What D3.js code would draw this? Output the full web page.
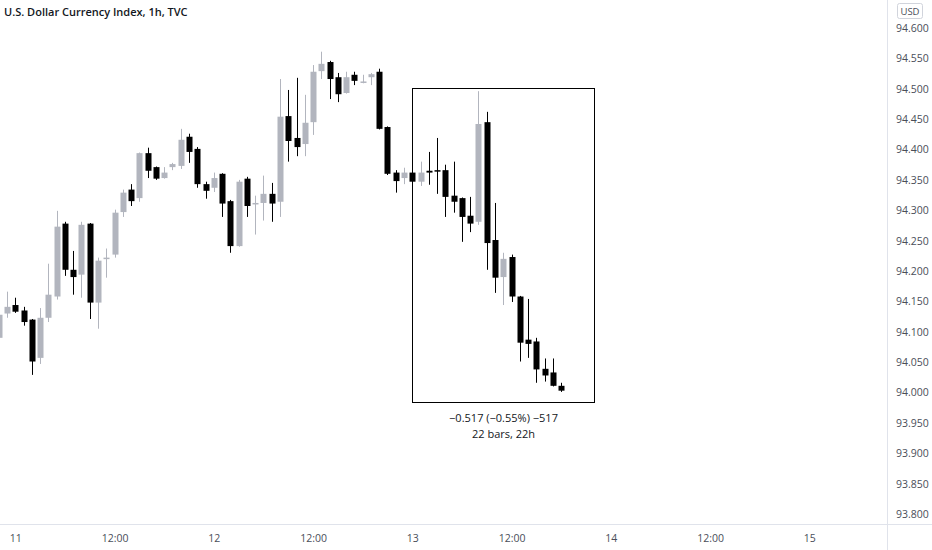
<!DOCTYPE html>
<html>
<head>
<meta charset="utf-8">
<script src="https://cdn.jsdelivr.net/npm/d3@7"></script>
<style>
html,body{margin:0;padding:0;background:#fff;}
svg{display:block;}
text{font-family:"Open Sans","Liberation Sans",sans-serif;}
</style>
</head>
<body>
<svg id="chart" width="932" height="550"></svg>
<script>
// ---- data (hourly bars, U.S. Dollar Currency Index, TVC) ----
const firstBar = Date.UTC(2021, 9, 10, 22); // 10 Oct 22:00
const open  = [94.090,94.130,94.144,94.135,94.120,94.057,94.123,94.158,94.278,94.202,94.194,94.278,94.148,94.220,94.227,94.297,94.334,94.320,94.394,94.371,94.353,94.371,94.373,94.421,94.401,94.343,94.337,94.360,94.315,94.241,94.352,94.310,94.312,94.327,94.314,94.455,94.419,94.409,94.445,94.529,94.544,94.519,94.493,94.523,94.511,94.519,94.528,94.437,94.362,94.353,94.362,94.347,94.365,94.366,94.366,94.324,94.320,94.291,94.281,94.445,94.251,94.190,94.223,94.158,94.087,94.084,94.039,94.033,94.011];
const high  = [94.140,94.166,94.156,94.141,94.121,94.139,94.212,94.299,94.281,94.233,94.281,94.279,94.222,94.237,94.301,94.334,94.343,94.395,94.403,94.372,94.371,94.378,94.434,94.426,94.404,94.347,94.362,94.361,94.317,94.350,94.355,94.324,94.357,94.345,94.516,94.498,94.518,94.490,94.539,94.561,94.546,94.526,94.528,94.528,94.523,94.526,94.533,94.438,94.366,94.370,94.363,94.380,94.396,94.419,94.375,94.380,94.321,94.322,94.496,94.462,94.312,94.230,94.227,94.159,94.154,94.090,94.056,94.056,94.016];
const low   = [94.075,94.123,94.131,94.110,94.029,94.047,94.116,94.153,94.192,94.161,94.156,94.121,94.105,94.189,94.222,94.289,94.307,94.314,94.353,94.350,94.352,94.366,94.368,94.378,94.337,94.319,94.330,94.289,94.230,94.240,94.289,94.260,94.283,94.281,94.289,94.380,94.389,94.389,94.424,94.516,94.483,94.478,94.492,94.506,94.509,94.506,94.433,94.358,94.329,94.343,94.346,94.340,94.342,94.327,94.289,94.296,94.248,94.264,94.276,94.202,94.164,94.144,94.149,94.051,94.057,94.016,94.018,94.010,94.001];
const close = [94.128,94.141,94.133,94.116,94.051,94.123,94.161,94.273,94.202,94.190,94.276,94.148,94.217,94.222,94.296,94.329,94.315,94.394,94.365,94.352,94.362,94.376,94.416,94.396,94.343,94.332,94.353,94.311,94.241,94.347,94.307,94.312,94.327,94.311,94.454,94.414,94.404,94.444,94.528,94.541,94.516,94.491,94.519,94.513,94.512,94.524,94.434,94.360,94.348,94.362,94.347,94.362,94.362,94.364,94.322,94.314,94.289,94.278,94.442,94.246,94.189,94.220,94.158,94.082,94.080,94.038,94.028,94.011,94.003];

const priceTicks = [94.6,94.55,94.5,94.45,94.4,94.35,94.3,94.25,94.2,94.15,94.1,94.05,94.0,93.95,93.9,93.85,93.8];
const timeTicks  = [Date.UTC(2021,9,11,0),Date.UTC(2021,9,11,12),Date.UTC(2021,9,12,0),Date.UTC(2021,9,12,12),Date.UTC(2021,9,13,0),Date.UTC(2021,9,13,12),Date.UTC(2021,9,14,0),Date.UTC(2021,9,14,12),Date.UTC(2021,9,15,0)];
const timeLabels = ["11","12:00","12","12:00","13","12:00","14","12:00","15"];

// measurement box
const boxTime  = [Date.UTC(2021,9,13,0), Date.UTC(2021,9,13,22)];
const boxPrice = [94.502, 93.985];
const boxText  = ["\u22120.517 (\u22120.55%) \u2212517", "22 bars, 22h"];

const title = "U.S. Dollar Currency Index, 1h, TVC";
const currency = "USD";

// ---- drawing ----
const W = 932, H = 550, plotRight = 887, plotBottom = 524;
const svg = d3.select("#chart");
const hour = 3600e3;
const bars = close.map((c,i)=>({t:firstBar + i*hour, o:open[i], h:high[i], l:low[i], c:c}));

const x = d3.scaleUtc().domain([timeTicks[0], timeTicks[8]]).range([15.3, 809.3]);
const y = d3.scaleLinear().domain([93.8, 94.6]).range([514, 28]);

const up = "#b2b5be", dn = "#000000";
const plot = svg.append("g");
plot.append("clipPath").attr("id","clip").append("rect").attr("x",0).attr("y",0).attr("width",plotRight).attr("height",plotBottom);
const cg = plot.append("g").attr("clip-path","url(#clip)");

const bw = 6;
const cand = cg.selectAll("g.c").data(bars).join("g").attr("class","c");
cand.append("line")
  .attr("x1",d=>Math.round(x(d.t))+0.5).attr("x2",d=>Math.round(x(d.t))+0.5)
  .attr("y1",d=>y(d.h)).attr("y2",d=>y(d.l))
  .attr("stroke",d=>d.c>=d.o?up:dn).attr("stroke-width",1);
cand.append("rect")
  .attr("x",d=>Math.round(x(d.t))-bw/2+0.5).attr("width",bw)
  .attr("y",d=>y(Math.max(d.o,d.c)))
  .attr("height",d=>Math.max(1.5, Math.abs(y(d.o)-y(d.c))))
  .attr("fill",d=>d.c>=d.o?up:dn);

// measurement rectangle
const bx0 = Math.round(x(boxTime[0]))+0.5, bx1 = Math.round(x(boxTime[1]))+0.5;
const by0 = Math.round(y(boxPrice[0]))+0.5, by1 = Math.round(y(boxPrice[1]))+0.5;
cg.append("rect").attr("x",bx0).attr("y",by0).attr("width",bx1-bx0).attr("height",by1-by0)
  .attr("fill","none").attr("stroke","#000").attr("stroke-width",1);
const bc = (bx0+bx1)/2;
svg.append("g").selectAll("text").data(boxText).join("text")
  .attr("x",bc).attr("y",(d,i)=>by1+19+i*16)
  .attr("text-anchor","middle").attr("font-size","11px").attr("fill","#131722").text(d=>d);

// title
svg.append("text").attr("x",4).attr("y",16).attr("font-size","11px").attr("font-weight",600)
  .attr("fill","#131722").text(title);

// right price axis
svg.append("line").attr("x1",plotRight+0.5).attr("x2",plotRight+0.5).attr("y1",0).attr("y2",H)
  .attr("stroke","#e0e3eb");
const yAxis = d3.axisRight(y).tickValues(priceTicks).tickFormat(d3.format(".3f")).tickSize(0).tickPadding(9);
const ya = svg.append("g").attr("transform",`translate(${plotRight},0)`).call(yAxis);
ya.select(".domain").remove();
ya.selectAll("text").attr("font-size","10.5px").attr("fill","#4a4e59").attr("font-family","'Open Sans',sans-serif");

// currency box
svg.append("rect").attr("x",897.5).attr("y",3.5).attr("width",25).attr("height",15).attr("rx",2)
  .attr("fill","#fff").attr("stroke","#d1d4dc");
svg.append("text").attr("x",910).attr("y",14.5).attr("text-anchor","middle").attr("font-size","9.5px")
  .attr("fill","#4a4e59").text(currency);

// bottom time axis
svg.append("line").attr("x1",0).attr("x2",W).attr("y1",plotBottom+0.5).attr("y2",plotBottom+0.5)
  .attr("stroke","#e0e3eb");
const xAxis = d3.axisBottom(x).tickValues(timeTicks).tickFormat((d,i)=>timeLabels[i]).tickSize(0).tickPadding(11);
const xa = svg.append("g").attr("transform",`translate(0,${plotBottom})`).call(xAxis);
xa.select(".domain").remove();
xa.selectAll("text").attr("font-size","10.5px").attr("fill","#4a4e59").attr("font-family","'Open Sans',sans-serif");
</script>
</body>
</html>
